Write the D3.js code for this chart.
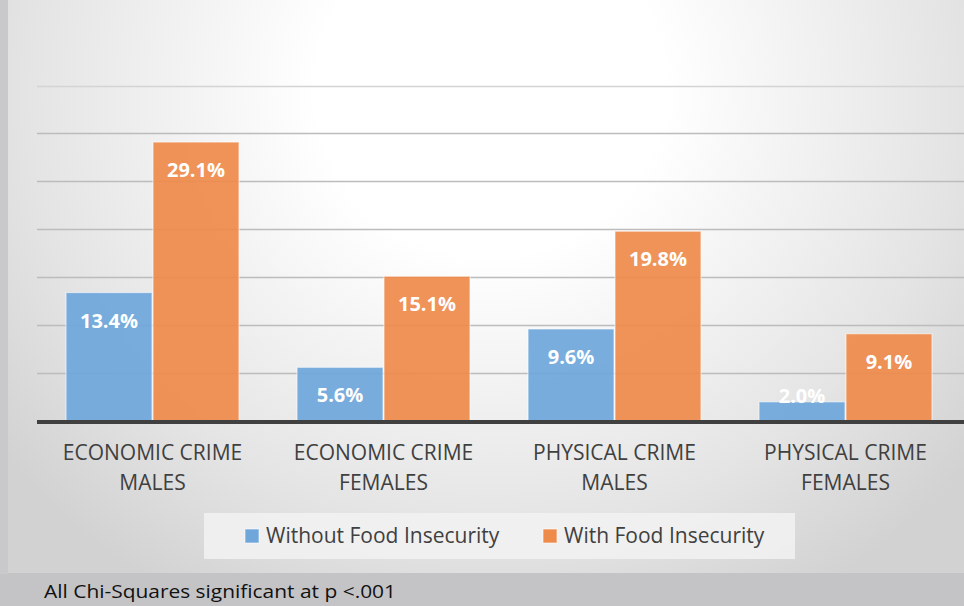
<!DOCTYPE html>
<html><head><meta charset="utf-8">
<script src="https://cdnjs.cloudflare.com/ajax/libs/d3/7.8.5/d3.min.js"></script>
<style>html,body{margin:0;padding:0;background:#c4c4c6;overflow:hidden}</style>
</head><body>
<svg id="c" width="964" height="606"></svg>
<script>
const categories = [["ECONOMIC CRIME","MALES"],["ECONOMIC CRIME","FEMALES"],["PHYSICAL CRIME","MALES"],["PHYSICAL CRIME","FEMALES"]];
const seriesNames = ["Without Food Insecurity","With Food Insecurity"];
const withoutFI = [13.4, 5.6, 9.6, 2.0];
const withFI = [29.1, 15.1, 19.8, 9.1];
const gridTicks = [5,10,15,20,25,30,35];
const colors = ["#6fa7da","#ee8b4b"];
const footnote = "All Chi-Squares significant at p <.001";

const svg = d3.select("#c");
const defs = svg.append("defs");
const rg = defs.append("radialGradient").attr("id","bg")
  .attr("gradientUnits","userSpaceOnUse").attr("cx",490).attr("cy",90).attr("r",620)
  .attr("gradientTransform","translate(490,90) scale(1,0.95) translate(-490,-90)");
rg.append("stop").attr("offset","0").attr("stop-color","#ffffff");
rg.append("stop").attr("offset","0.28").attr("stop-color","#ffffff");
rg.append("stop").attr("offset","0.75").attr("stop-color","#e4e4e4");
rg.append("stop").attr("offset","1").attr("stop-color","#d2d2d2");

svg.append("rect").attr("x",0).attr("y",0).attr("width",964).attr("height",606).attr("fill","#c4c4c6");
svg.append("rect").attr("x",0).attr("y",0).attr("width",8).attr("height",574).attr("fill","#c9c9cb");
svg.append("rect").attr("x",8).attr("y",0).attr("width",956).attr("height",573).attr("fill","url(#bg)");

const x0 = d3.scaleBand().domain(d3.range(categories.length)).range([37,961]).paddingInner(0.247).paddingOuter(0.1235);
const x1 = d3.scaleBand().domain([0,1]).range([0,x0.bandwidth()]);
const y = d3.scaleLinear().domain([0,35]).range([421,85.5]);

// gridlines
svg.append("g").selectAll("line").data(gridTicks).join("line")
  .attr("x1",37).attr("x2",964)
  .attr("y1",d=>Math.round(y(d))+0.5).attr("y2",d=>Math.round(y(d))+0.5)
  .attr("stroke",d=>d===35?"#d4d4d4":"#bcbcbc").attr("stroke-width",1.6);

const data = categories.map((c,i)=>({i, vals:[withoutFI[i], withFI[i]]}));
const g = svg.append("g").selectAll("g").data(data).join("g")
  .attr("transform",d=>`translate(${x0(d.i)},0)`);
g.selectAll("rect").data(d=>d.vals.map((v,k)=>({v,k}))).join("rect")
  .attr("x",d=>x1(d.k)+0.5).attr("width",x1.bandwidth()-1)
  .attr("y",d=>y(d.v)).attr("height",d=>y(0)-y(d.v))
  .attr("fill",d=>colors[d.k]).attr("fill-opacity",0.93)
  .attr("stroke","#ffffff").attr("stroke-opacity",0.55).attr("stroke-width",1.2);
g.selectAll("text").data(d=>d.vals.map((v,k)=>({v,k}))).join("text")
  .attr("x",d=>x1(d.k)+x1.bandwidth()/2)
  .attr("y",d=>Math.min(y(d.v)+35, y(0)-18))
  .attr("text-anchor","middle").attr("fill","#ffffff")
  .attr("font-family","'Open Sans', sans-serif").attr("font-weight","bold").attr("font-size",20)
  .text(d=>d.v.toFixed(1)+"%");

// baseline
svg.append("line").attr("x1",37).attr("x2",964).attr("y1",422).attr("y2",422)
  .attr("stroke","#404040").attr("stroke-width",4);

// category labels
const cl = svg.append("g").selectAll("text").data(categories).join("text")
  .attr("text-anchor","middle").attr("fill","#404040")
  .attr("font-family","'Open Sans', sans-serif").attr("font-size",21);
cl.each(function(d,i){
  const t = d3.select(this);
  const cx = x0(i)+x0.bandwidth()/2;
  d.forEach((line,j)=>t.append("tspan").attr("x",cx).attr("y",460+j*30).text(line));
});

// legend
svg.append("rect").attr("x",204).attr("y",513).attr("width",591).attr("height",46).attr("fill","#f2f2f2").attr("fill-opacity",0.85);
const legX = [245,543];
const lg = svg.append("g").selectAll("g").data(seriesNames).join("g")
  .attr("transform",(d,i)=>`translate(${legX[i]},0)`);
lg.append("rect").attr("x",0).attr("y",529).attr("width",14).attr("height",14)
  .attr("fill",(d,i)=>colors[i]).attr("stroke","#ffffff").attr("stroke-opacity",0.6);
lg.append("text").attr("x",21).attr("y",543).attr("fill","#404040")
  .attr("font-family","'Open Sans', sans-serif").attr("font-size",21).text(d=>d);

svg.append("text").attr("x",44).attr("y",598).attr("fill","#111")
  .attr("font-family","'Open Sans', sans-serif").attr("font-size",18)
  .attr("textLength",352).attr("lengthAdjust","spacingAndGlyphs").text(footnote);
</script>
</body></html>
